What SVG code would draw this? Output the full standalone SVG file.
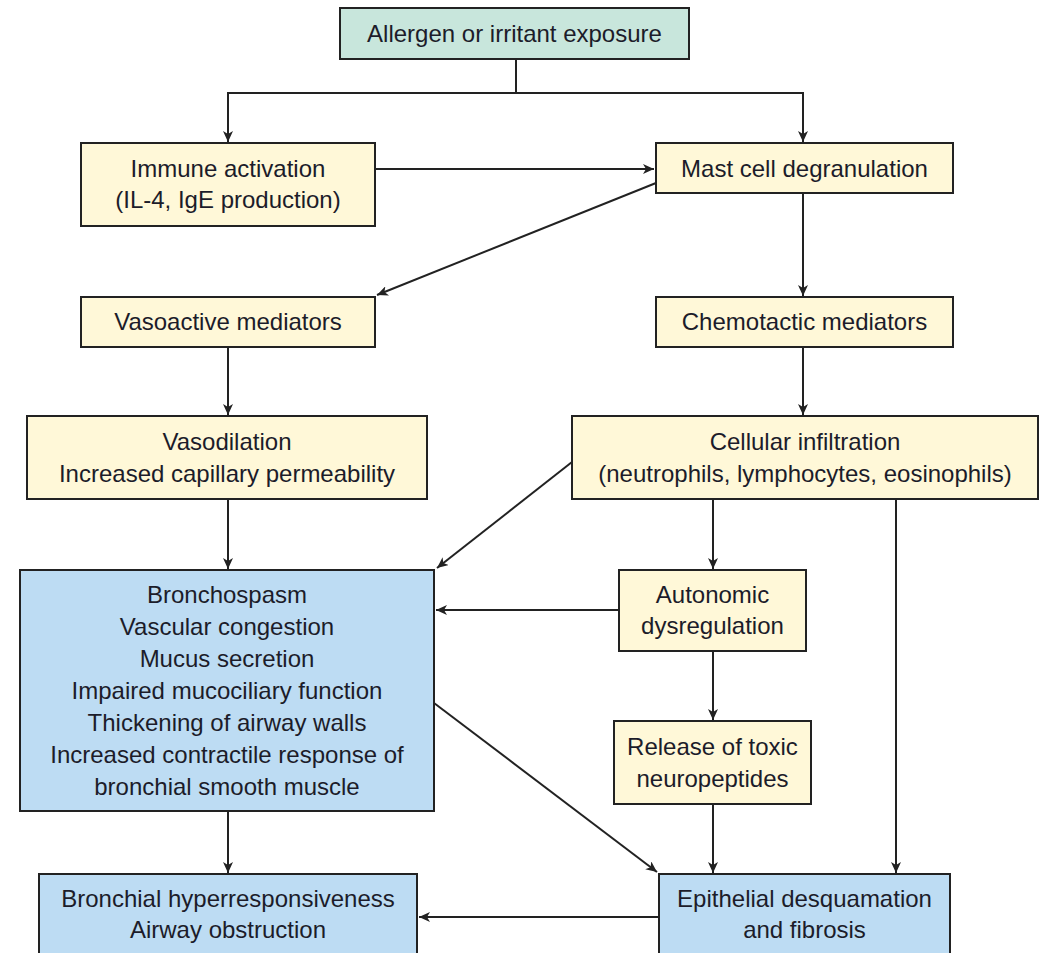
<svg xmlns="http://www.w3.org/2000/svg" width="1041" height="953" viewBox="0 0 1041 953">
<style>
  .box { stroke: #222; stroke-width: 2; }
  .teal { fill: #c8e6dc; }
  .yel { fill: #fff8d8; }
  .blue { fill: #bddcf3; }
  text { font-family: "Liberation Sans", Arial, sans-serif; font-size: 24px; fill: #1c1c2a; text-anchor: middle; }
  .c { stroke: #222; stroke-width: 2; fill: none; }
  .a { marker-end: url(#ah); }
</style>
<defs>
  <marker id="ah" markerUnits="userSpaceOnUse" markerWidth="12" markerHeight="10" refX="11" refY="5" orient="auto">
    <path d="M0,0 L11,5 L0,10 L3,5 z" fill="#222"/>
  </marker>
</defs>
<rect width="1041" height="953" fill="#fff"/>

<g id="connectors">
  <line class="c" x1="516" y1="59" x2="516" y2="93"/>
  <line class="c" x1="227" y1="93" x2="804" y2="93"/>
  <line class="c a" x1="228" y1="92" x2="228" y2="142"/>
  <line class="c a" x1="803" y1="92" x2="803" y2="142"/>
  <line class="c a" x1="375" y1="169" x2="654" y2="169"/>
  <line class="c a" x1="656" y1="183" x2="377" y2="295"/>
  <line class="c a" x1="803" y1="193" x2="803" y2="296"/>
  <line class="c a" x1="228" y1="347" x2="228" y2="415"/>
  <line class="c a" x1="803" y1="347" x2="803" y2="415"/>
  <line class="c a" x1="572" y1="462" x2="437" y2="568"/>
  <line class="c a" x1="228" y1="499" x2="228" y2="569"/>
  <line class="c a" x1="713" y1="499" x2="713" y2="569"/>
  <line class="c a" x1="896" y1="499" x2="896" y2="873"/>
  <line class="c a" x1="619" y1="610" x2="436" y2="610"/>
  <line class="c a" x1="713" y1="651" x2="713" y2="720"/>
  <line class="c a" x1="434" y1="703" x2="657" y2="872"/>
  <line class="c a" x1="713" y1="804" x2="713" y2="873"/>
  <line class="c a" x1="228" y1="811" x2="228" y2="873"/>
  <line class="c a" x1="659" y1="917" x2="419" y2="917"/>
</g>

<g id="allergen">
  <rect class="box teal" x="340" y="8" width="349" height="51"/>
  <text x="514.5" y="42">Allergen or irritant exposure</text>
</g>
<g id="immune">
  <rect class="box yel" x="81" y="143" width="294" height="83"/>
  <text x="228" y="177">Immune activation</text>
  <text x="228" y="208">(IL-4, IgE production)</text>
</g>
<g id="mast">
  <rect class="box yel" x="656" y="143" width="297" height="50"/>
  <text x="804.5" y="177">Mast cell degranulation</text>
</g>
<g id="vasoactive">
  <rect class="box yel" x="81" y="297" width="294" height="50"/>
  <text x="228" y="330">Vasoactive mediators</text>
</g>
<g id="chemotactic">
  <rect class="box yel" x="656" y="297" width="297" height="50"/>
  <text x="804.5" y="330">Chemotactic mediators</text>
</g>
<g id="vasodilation">
  <rect class="box yel" x="27" y="416" width="400" height="83"/>
  <text x="227" y="450">Vasodilation</text>
  <text x="227" y="482">Increased capillary permeability</text>
</g>
<g id="cellular">
  <rect class="box yel" x="572" y="416" width="466" height="83"/>
  <text x="805" y="450">Cellular infiltration</text>
  <text x="805" y="482">(neutrophils, lymphocytes, eosinophils)</text>
</g>
<g id="bronchospasm">
  <rect class="box blue" x="20" y="570" width="414" height="241"/>
  <text x="227" y="603">Bronchospasm</text>
  <text x="227" y="635">Vascular congestion</text>
  <text x="227" y="667">Mucus secretion</text>
  <text x="227" y="699">Impaired mucociliary function</text>
  <text x="227" y="731">Thickening of airway walls</text>
  <text x="227" y="763">Increased contractile response of</text>
  <text x="227" y="795">bronchial smooth muscle</text>
</g>
<g id="autonomic">
  <rect class="box yel" x="619" y="570" width="187" height="81"/>
  <text x="712.5" y="603">Autonomic</text>
  <text x="712.5" y="634">dysregulation</text>
</g>
<g id="release">
  <rect class="box yel" x="614" y="721" width="197" height="83"/>
  <text x="712.5" y="755">Release of toxic</text>
  <text x="712.5" y="787">neuropeptides</text>
</g>
<g id="hyperresponsiveness">
  <rect class="box blue" x="39" y="874" width="378" height="90"/>
  <text x="228" y="907">Bronchial hyperresponsiveness</text>
  <text x="228" y="938">Airway obstruction</text>
</g>
<g id="epithelial">
  <rect class="box blue" x="659" y="874" width="291" height="90"/>
  <text x="804.5" y="907">Epithelial desquamation</text>
  <text x="804.5" y="938">and fibrosis</text>
</g>
</svg>
